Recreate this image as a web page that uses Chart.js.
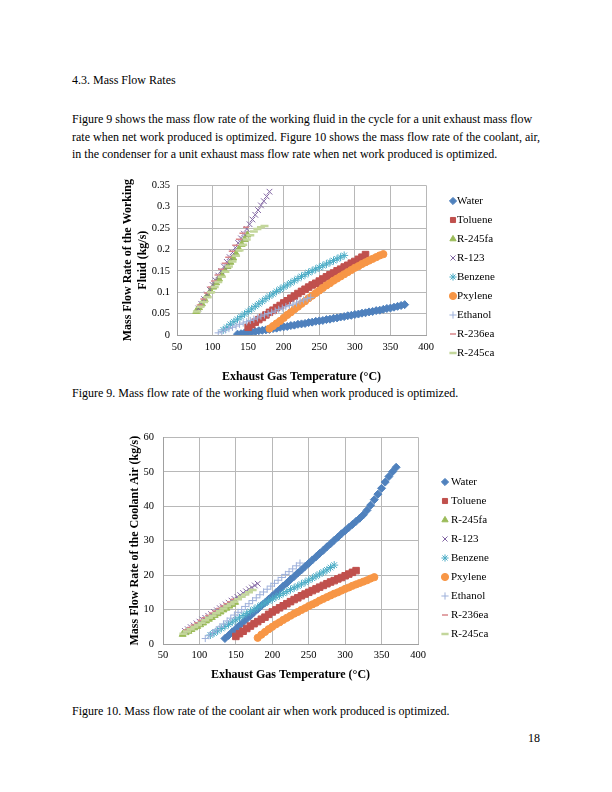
<!DOCTYPE html>
<html>
<head>
<meta charset="utf-8">
<script src="https://cdn.jsdelivr.net/npm/chart.js@4.4.1/dist/chart.umd.min.js"></script>
<style>
  body { margin: 0; background: #fff; }
  .page { position: relative; width: 612px; height: 792px; overflow: hidden;
          font-family: "Liberation Serif", "Times New Roman", serif; font-size: 12px; color: #000; }
  .t { position: absolute; white-space: nowrap; line-height: 16px; }
  canvas { position: absolute; }
</style>
</head>
<body>
<div class="page">
  <div class="t" style="left:72px;top:72px">4.3. Mass Flow Rates</div>
  <div class="t" style="left:72px;top:111px">Figure 9 shows the mass flow rate of the working fluid in the cycle for a unit exhaust mass flow</div>
  <div class="t" style="left:72px;top:129px">rate when net work produced is optimized. Figure 10 shows the mass flow rate of the coolant, air,</div>
  <div class="t" style="left:72px;top:146px">in the condenser for a unit exhaust mass flow rate when net work produced is optimized.</div>

  <canvas id="fig9" width="420" height="212" style="left:110px;top:172px"></canvas>
  <div class="t" style="left:72px;top:385px">Figure 9. Mass flow rate of the working fluid when work produced is optimized.</div>

  <canvas id="fig10" width="420" height="262" style="left:110px;top:422px"></canvas>
  <div class="t" style="left:72px;top:703px">Figure 10. Mass flow rate of the coolant air when work produced is optimized.</div>

  <div class="t" style="left:528px;top:730px">18</div>
</div>
<script>
// Exhaust gas temperatures (°C) sampled for each working fluid.
const waterT = [135,140,145,150,155,160,165,170,175,180,185,190,195,200,205,210,215,220,225,230,235,240,245,250,255,260,265,270,275,280,285,290,295,300,305,310,315,320,325,330,335,340,345,350,355,360,365,370];
const toluT = [150,155,160,165,170,175,180,185,190,195,200,205,210,215,220,225,230,235,240,245,250,255,260,265,270,275,280,285,290,295,300,305,310,315];
const r245faT = [77,81,85,89,93,97,101,105,109,113,117,121,125,129,133,137,141,145,149];
const r123T = [80,84,88,92,96,100,104,108,112,116,120,124,128,132,136,140,144,148,152,156,160,164,168,172,176,180];
const benzT = [115,120,125,130,135,140,145,150,155,160,165,170,175,180,185,190,195,200,205,210,215,220,225,230,235,240,245,250,255,260,265,270,275,280,285];
const pxyT = [180,185,190,195,200,205,210,215,220,225,230,235,240,245,250,255,260,265,270,275,280,285,290,295,300,305,310,315,320,325,330,335,340];
const ethT = [108,113,118,123,128,133,138,143,148,153,158,163,168,173,178,183,188,193,198,203,208,213,218,223,228,233,238];
const r236eaT = [82,87,92,97,102,107,112,117,122,127,132,137,142,147];
const r245caT = [78,83,88,93,98,103,108,113,118,123,128,133,138,143,148,153,158,163,168,173];

// Figure 9: working fluid mass flow rate (kg/s).
const waterFluid = [.002,.003,.005,.006,.007,.008,.010,.011,.012,.013,.015,.016,.018,.019,.020,.022,.023,.025,.026,.027,.029,.030,.032,.033,.034,.036,.037,.039,.040,.042,.043,.045,.046,.048,.049,.051,.052,.054,.055,.057,.058,.060,.062,.063,.065,.067,.069,.071];
const toluFluid = [.018,.024,.030,.036,.041,.047,.053,.058,.064,.069,.075,.080,.086,.091,.097,.102,.107,.112,.117,.121,.126,.131,.136,.141,.145,.150,.154,.159,.163,.168,.172,.177,.182,.188];
const r245faFluid = [.055,.064,.073,.083,.093,.103,.112,.122,.131,.141,.151,.160,.170,.180,.190,.201,.212,.223,.234];
const r123Fluid = [.062,.073,.084,.095,.106,.117,.128,.139,.150,.160,.171,.182,.193,.204,.215,.226,.237,.248,.259,.270,.281,.292,.303,.313,.324,.335];
const benzFluid = [.012,.018,.025,.031,.037,.043,.049,.055,.061,.067,.073,.079,.085,.091,.096,.102,.107,.112,.117,.122,.127,.132,.137,.141,.146,.150,.154,.158,.162,.166,.170,.174,.178,.182,.186];
const pxyFluid = [.015,.021,.027,.033,.040,.047,.053,.060,.066,.073,.079,.086,.092,.098,.104,.110,.116,.121,.127,.132,.137,.142,.147,.152,.157,.161,.166,.170,.174,.178,.182,.186,.189];
const ethFluid = [.005,.008,.012,.015,.018,.021,.025,.028,.031,.034,.037,.040,.044,.047,.050,.053,.056,.060,.063,.066,.069,.072,.075,.079,.082,.085,.088];
const r236eaFluid = [.070,.084,.098,.112,.126,.140,.154,.168,.182,.196,.210,.224,.238,.252];
const r245caFluid = [.055,.066,.077,.088,.100,.112,.124,.136,.148,.160,.172,.185,.198,.211,.223,.233,.242,.248,.252,.255];

// Figure 10: coolant air mass flow rate (kg/s).
const waterAir = [1.6,2.5,3.5,4.4,5.4,6.3,7.3,8.2,9.2,10.1,11.1,12.0,13.0,13.9,14.9,15.8,16.8,17.7,18.7,19.6,20.6,21.5,22.5,23.4,24.4,25.3,26.3,27.2,28.2,29.1,30.1,31.0,32.0,32.9,33.8,34.7,35.6,36.5,37.5,38.8,40.3,41.9,43.5,45.2,47.0,48.6,50.0,51.3];
const toluAir = [2.2,3.0,3.7,4.5,5.2,5.9,6.5,7.2,7.8,8.6,9.3,9.9,10.5,11.1,11.7,12.3,12.9,13.4,14.0,14.5,15.0,15.5,16.0,16.5,17.0,17.5,18.0,18.4,18.9,19.3,19.8,20.3,20.8,21.3];
const r245faAir = [2.8,3.3,3.7,4.2,4.7,5.1,5.6,6.1,6.7,7.2,7.7,8.3,8.8,9.3,9.9,10.4,11.0,11.5,12.1];
const r123Air = [3.8,4.3,4.9,5.4,6.0,6.5,7.1,7.6,8.2,8.7,9.3,9.8,10.4,10.9,11.5,12.0,12.6,13.1,13.7,14.2,14.8,15.3,15.9,16.4,17.0,17.5];
const benzAir = [2.6,3.2,3.8,4.5,5.1,5.7,6.4,7.0,7.6,8.3,8.9,9.5,10.1,10.7,11.3,11.9,12.5,13.0,13.6,14.1,14.7,15.2,15.8,16.3,16.8,17.4,17.9,18.5,19.1,19.7,20.3,20.9,21.5,22.2,22.9];
const pxyAir = [1.8,2.7,3.5,4.3,5.0,5.7,6.3,7.0,7.6,8.2,8.8,9.3,9.9,10.4,11.0,11.5,12.0,12.6,13.1,13.6,14.1,14.6,15.0,15.5,16.0,16.4,16.9,17.3,17.7,18.1,18.5,19.0,19.4];
const ethAir = [1.6,2.4,3.3,4.1,5.0,5.8,6.7,7.5,8.4,9.2,10.0,10.9,11.7,12.6,13.4,14.3,15.1,15.9,16.8,17.6,18.5,19.3,20.2,21.0,21.8,22.7,23.5];
const r236eaAir = [4.1,4.8,5.5,6.2,6.9,7.6,8.3,9.0,9.6,10.3,11.0,11.7,12.3,13.0];
const r245caAir = [3.0,3.6,4.3,4.9,5.5,6.2,6.9,7.6,8.2,8.9,9.6,10.3,11.0,11.6,12.3,13.0,13.7,14.4,15.0,15.7];

const xTicks = [50,100,150,200,250,300,350,400];

const FONT = '"Liberation Serif", "Times New Roman", serif';

// Marker look per fluid, in legend order (Excel 2007 palette).
const fluids = [
  { label: 'Water',   temps: waterT,   fluid: waterFluid,   air: waterAir,   color: '#4F81BD', style: 'rectRot',  r: 4,   bw: 1 },
  { label: 'Toluene', temps: toluT,    fluid: toluFluid,    air: toluAir,    color: '#C0504D', style: 'rect',     r: 4.6, bw: 1 },
  { label: 'R-245fa', temps: r245faT,  fluid: r245faFluid,  air: r245faAir,  color: '#9BBB59', style: 'triangle', r: 4,   bw: 1 },
  { label: 'R-123',   temps: r123T,    fluid: r123Fluid,    air: r123Air,    color: '#8064A2', style: 'crossRot', r: 4,   bw: 1 },
  { label: 'Benzene', temps: benzT,    fluid: benzFluid,    air: benzAir,    color: '#4BACC6', style: 'star',     r: 4,   bw: 1 },
  { label: 'Pxylene', temps: pxyT,     fluid: pxyFluid,     air: pxyAir,     color: '#F79646', style: 'circle',   r: 3.6, bw: 1 },
  { label: 'Ethanol', temps: ethT,     fluid: ethFluid,     air: ethAir,     color: '#9DB0DA', style: 'cross',    r: 3.6, bw: 1 },
  { label: 'R-236ea', temps: r236eaT,  fluid: r236eaFluid,  air: r236eaAir,  color: '#D9868A', style: 'line',     r: 3,   bw: 1.5 },
  { label: 'R-245ca', temps: r245caT,  fluid: r245caFluid,  air: r245caAir,  color: '#C3D69B', style: 'line',     r: 4,   bw: 2.5 },
];

// Legend to the right of the plot, drawn with the same point styles as the datasets.
const sideLegend = {
  id: 'sideLegend',
  afterDraw(chart, args, o) {
    const ctx = chart.ctx;
    ctx.save();
    ctx.font = `11px ${FONT}`;
    ctx.textBaseline = 'middle';
    ctx.textAlign = 'left';
    chart.data.datasets.forEach((ds, i) => {
      const y = o.y + i * o.dy;
      ctx.fillStyle = ds.backgroundColor;
      ctx.strokeStyle = ds.borderColor;
      ctx.lineWidth = ds.pointBorderWidth;
      Chart.helpers.drawPoint(ctx, {
        pointStyle: ds.pointStyle, rotation: 0,
        radius: Math.min(ds.pointRadius, 3.6), borderWidth: ds.pointBorderWidth,
      }, o.x, y);
      ctx.fillStyle = '#000';
      ctx.fillText(ds.label, o.textX, y);
    });
    ctx.restore();
  },
};

function makeChart(id, key, yMax, yStep, yTitle, dims) {
  const datasets = fluids.map((f, i) => ({
    label: f.label,
    data: f.temps.map((t, k) => ({ x: t, y: f[key][k] })),
    pointStyle: f.style,
    pointRadius: f.r,
    pointBorderWidth: f.bw,
    backgroundColor: f.color,
    borderColor: f.color,
    showLine: false,
    order: fluids.length - i, // later series drawn on top, as in Excel
  }));

  return new Chart(document.getElementById(id), {
    type: 'scatter',
    data: { datasets },
    plugins: [sideLegend],
    options: {
      responsive: false,
      animation: false,
      events: [],
      layout: { padding: dims.pad },
      plugins: {
        legend: { display: false },
        tooltip: { enabled: false },
        sideLegend: dims.legend,
      },
      scales: {
        x: {
          type: 'linear', min: 50, max: 400,
          afterBuildTicks: s => { s.ticks = xTicks.map(v => ({ value: v })); },
          afterFit: s => { s.height = dims.xh; },
          grid: { color: '#B8B8B8', drawTicks: false },
          border: { color: '#A0A0A0' },
          ticks: { color: '#000', padding: dims.xtp, font: { family: FONT, size: 10.5 }, maxRotation: 0 },
          title: {
            display: true, text: 'Exhaust Gas Temperature (°C)', color: '#000',
            font: { family: FONT, size: 12, weight: 'bold', lineHeight: 1.25 },
            padding: { top: 0, bottom: dims.xtb },
          },
        },
        y: {
          type: 'linear', min: 0, max: yMax,
          afterFit: s => { s.width = dims.yw; },
          grid: { color: '#B8B8B8', drawTicks: false },
          border: { color: '#A0A0A0' },
          ticks: {
            stepSize: yStep, color: '#000', padding: dims.ytp,
            font: { family: FONT, size: 10.5 },
            callback: v => String(Number(v.toFixed(2))),
          },
          title: {
            display: true, text: yTitle, color: '#000',
            font: { family: FONT, size: 12, weight: 'bold', lineHeight: 1.25 },
            padding: { top: dims.ytt, bottom: 0 },
          },
        },
      },
    },
  });
}

makeChart('fig9', 'fluid', 0.35, 0.05, ['Mass Flow Rate of the Working', 'Fluid (kg/s)'], {
  pad: { top: 10, right: 104, bottom: 0, left: 0 },
  xh: 49, yw: 67, xtp: 6, ytp: 7, xtb: 0, ytt: 10.5,
  legend: { x: 343, textX: 347, y: 29, dy: 19 },
});

makeChart('fig10', 'air', 60, 10, 'Mass Flow Rate of the Coolant Air (kg/s)', {
  pad: { top: 10, right: 112, bottom: 0, left: 0 },
  xh: 40, yw: 53, xtp: 5, ytp: 9, xtb: 2, ytt: 17,
  legend: { x: 335, textX: 341, y: 60, dy: 19 },
});
</script>
</body>
</html>
